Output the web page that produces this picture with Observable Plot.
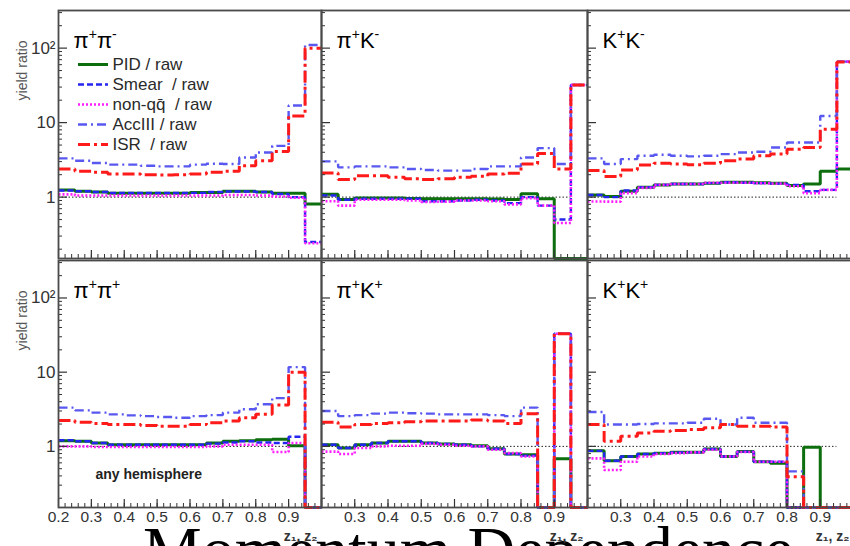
<!DOCTYPE html>
<html>
<head>
<meta charset="utf-8">
<script src="https://cdn.jsdelivr.net/npm/d3@7"></script>
<script src="https://cdn.jsdelivr.net/npm/@observablehq/plot@0.6"></script>
<style>
  body { margin: 0; background: #fff; }
  #fig { position: relative; width: 850px; height: 546px; overflow: hidden; background: #fff;
         font-family: "Liberation Sans", Arial, sans-serif; }
  #fig svg { position: absolute; overflow: visible; }
  #banner { position: absolute; left: 143px; top: 517px; font-family: "Liberation Serif", "Times New Roman", serif;
            font-size: 66px; line-height: 1; white-space: nowrap; color: #000; }
</style>
</head>
<body>
<div id="fig"><div id="banner">Momentum Dependence</div></div>
<script>
// Bin edges in z (16 bins of width 0.05)
const zEdges = [0.20, 0.25, 0.30, 0.35, 0.40, 0.45, 0.50, 0.55, 0.60, 0.65, 0.70, 0.75, 0.80, 0.85, 0.90, 0.95, 1.00];

// Series and legend text
const seriesKeys = ["PID", "Smear", "nonqq", "AccIII", "ISR"];
const legendLabels = ["PID / raw", "Smear\u00a0 / raw", "non-qq\u0304\u00a0 / raw", "AccIII / raw", "ISR\u00a0 / raw"];

// Panel titles and axis text
const panelTitles = ["π+π-", "π+K-", "K+K-", "π+π+", "π+K+", "K+K+"];
const yTickValues = [1, 10, 100];
const yTickLabels = ["1", "10", "10²"];
const xTickValues = [0.2, 0.3, 0.4, 0.5, 0.6, 0.7, 0.8, 0.9];
const yAxisTitle = "yield ratio";
const xAxisTitle = "z₁, z₂";
const noteText = "any hemisphere";
const unitySpan = [0.2, 0.95];

// π+π- (opposite charge) yield ratios per bin (0 = empty bin)
const pipiOpp_PID    = [1.25, 1.2, 1.17, 1.13, 1.13, 1.13, 1.13, 1.13, 1.15, 1.15, 1.2, 1.2, 1.17, 1.13, 1.13, 0.81];
const pipiOpp_Smear  = [1.23, 1.2, 1.17, 1.14, 1.14, 1.14, 1.14, 1.14, 1.14, 1.17, 1.19, 1.19, 1.17, 1.1, 1.0, 0.25];
const pipiOpp_nonqq  = [1.09, 1.05, 1.05, 1.05, 1.05, 1.05, 1.05, 1.05, 1.05, 1.05, 1.07, 1.07, 1.05, 1.02, 0.98, 0.24];
const pipiOpp_AccIII = [3.31, 3.08, 2.87, 2.73, 2.73, 2.64, 2.59, 2.59, 2.73, 2.81, 2.78, 3.41, 3.98, 4.88, 17.0, 110];
const pipiOpp_ISR    = [2.39, 2.22, 2.15, 2.05, 2.05, 2.0, 1.98, 2.0, 2.05, 2.15, 2.22, 2.64, 3.08, 4.1, 12.3, 100];

// π+K-
const piKOpp_PID    = [1.09, 0.93, 0.97, 0.97, 0.97, 0.96, 0.95, 0.95, 0.95, 0.95, 0.94, 0.93, 1.11, 0.95, 0, 0];
const piKOpp_Smear  = [1.05, 0.92, 0.95, 0.95, 0.95, 0.95, 0.88, 0.88, 0.9, 0.92, 0.9, 0.83, 1.0, 0.77, 0.5, 32];
const piKOpp_nonqq  = [0.88, 0.77, 0.92, 0.92, 0.92, 0.9, 0.86, 0.87, 0.9, 0.9, 0.88, 0.8, 0.97, 0.77, 0.45, 32];
const piKOpp_AccIII = [3.02, 2.51, 2.59, 2.59, 2.51, 2.39, 2.31, 2.27, 2.27, 2.39, 2.59, 2.59, 3.41, 4.55, 2.78, 32];
const piKOpp_ISR    = [2.11, 1.72, 1.94, 1.94, 1.85, 1.76, 1.72, 1.76, 1.85, 1.9, 2.05, 2.09, 2.78, 3.86, 2.39, 32];

// K+K-
const KKOpp_PID    = [1.07, 1.02, 1.2, 1.36, 1.46, 1.5, 1.5, 1.54, 1.58, 1.58, 1.56, 1.54, 1.43, 1.5, 2.22, 2.39];
const KKOpp_Smear  = [1.07, 1.0, 1.23, 1.36, 1.46, 1.5, 1.5, 1.54, 1.58, 1.56, 1.54, 1.52, 1.46, 1.2, 1.25, 66];
const KKOpp_nonqq  = [0.875, 0.87, 1.13, 1.33, 1.46, 1.5, 1.5, 1.56, 1.56, 1.56, 1.54, 1.52, 1.4, 1.13, 1.25, 66];
const KKOpp_AccIII = [3.31, 2.78, 3.24, 3.59, 3.7, 3.59, 3.52, 3.59, 3.78, 3.98, 4.06, 4.64, 5.41, 5.41, 12.3, 66];
const KKOpp_ISR    = [2.27, 1.89, 2.31, 2.7, 2.84, 2.78, 2.73, 2.84, 3.08, 3.24, 3.59, 3.78, 4.4, 4.64, 8.15, 65];

// π+π+ (same charge)
const pipiSame_PID    = [1.19, 1.17, 1.11, 1.05, 1.05, 1.05, 1.05, 1.05, 1.05, 1.11, 1.17, 1.19, 1.23, 1.25, 1.02, 0];
const pipiSame_Smear  = [1.21, 1.17, 1.11, 1.05, 1.05, 1.05, 1.05, 1.05, 1.05, 1.09, 1.13, 1.17, 1.13, 1.11, 1.35, 0];
const pipiSame_nonqq  = [1.0, 1.0, 0.98, 0.98, 0.98, 0.98, 0.98, 0.98, 0.98, 1.0, 1.05, 1.05, 1.05, 0.84, 1.11, 0];
const pipiSame_AccIII = [3.33, 3.06, 2.85, 2.7, 2.62, 2.56, 2.49, 2.43, 2.56, 2.64, 2.85, 3.16, 3.7, 4.47, 11.7, 0];
const pipiSame_ISR    = [2.24, 2.12, 2.04, 1.97, 1.97, 1.91, 1.87, 1.87, 1.97, 2.08, 2.19, 2.43, 2.7, 3.62, 10, 0];

// π+K+
const piKSame_PID    = [1.05, 0.95, 1.05, 1.11, 1.17, 1.17, 1.11, 1.08, 1.05, 1.02, 0.93, 0.79, 0.77, 0, 0.68, 0];
const piKSame_Smear  = [1.05, 0.95, 1.05, 1.11, 1.17, 1.17, 1.11, 1.08, 1.05, 1.0, 0.93, 0.79, 0.75, 0, 33, 0];
const piKSame_nonqq  = [0.85, 0.79, 0.95, 1.0, 1.02, 1.02, 1.08, 1.05, 1.02, 1.0, 0.9, 0.81, 0.73, 0, 33, 0];
const piKSame_AccIII = [3.0, 2.56, 2.64, 2.76, 2.85, 2.8, 2.76, 2.7, 2.7, 2.7, 2.64, 2.56, 3.33, 0, 33, 0];
const piKSame_ISR    = [2.12, 1.82, 1.97, 2.04, 2.08, 2.15, 2.19, 2.19, 2.19, 2.26, 2.19, 2.04, 2.76, 0, 33, 0];

// K+K+
const KKSame_PID    = [0.87, 0.64, 0.73, 0.79, 0.81, 0.83, 0.83, 0.92, 0.73, 0.85, 0.62, 0.59, 0, 0.97, 0, 0];
const KKSame_Smear  = [0.87, 0.64, 0.73, 0.79, 0.81, 0.83, 0.83, 0.92, 0.73, 0.85, 0.62, 0.62, 0, 0, 0, 0];
const KKSame_nonqq  = [0.69, 0.48, 0.62, 0.73, 0.79, 0.81, 0.83, 0.9, 0.73, 0.84, 0.62, 0.62, 0, 0, 0, 0];
const KKSame_AccIII = [2.91, 1.97, 1.97, 2.0, 2.04, 2.04, 2.08, 2.36, 1.97, 2.43, 2.08, 2.08, 0.46, 0, 0, 0];
const KKSame_ISR    = [1.97, 1.17, 1.37, 1.52, 1.6, 1.64, 1.69, 1.78, 1.97, 1.87, 1.87, 1.83, 0.39, 0, 0, 0];

// ---- styling ----
const seriesStyle = {
  PID:    {color: "#0d6e0d", width: 3,   dash: null},
  Smear:  {color: "#2525f0", width: 2.4, dash: "6,3"},
  nonqq:  {color: "#ff1eff", width: 2.6, dash: "2,2"},
  AccIII: {color: "#5858f0", width: 2.4, dash: "9,4,2,4"},
  ISR:    {color: "#ff1a1a", width: 3,   dash: "12,4,3,4"}
};
const Y_DOMAIN = [0.15, 320];
const X_DOMAIN = [0.2, 1.0];
const COLS = [{left: 58, w: 263}, {left: 321, w: 266}, {left: 587, w: 266}];
const ROWS = [{top: 10, h: 248}, {top: 260, h: 247}];
const FIG_H = 546;
const FONT = "'Liberation Sans', Arial, sans-serif";

const panels = [
  {title: panelTitles[0], col: 0, row: 0, data: {PID: pipiOpp_PID, Smear: pipiOpp_Smear, nonqq: pipiOpp_nonqq, AccIII: pipiOpp_AccIII, ISR: pipiOpp_ISR}},
  {title: panelTitles[1], col: 1, row: 0, data: {PID: piKOpp_PID, Smear: piKOpp_Smear, nonqq: piKOpp_nonqq, AccIII: piKOpp_AccIII, ISR: piKOpp_ISR}},
  {title: panelTitles[2], col: 2, row: 0, data: {PID: KKOpp_PID, Smear: KKOpp_Smear, nonqq: KKOpp_nonqq, AccIII: KKOpp_AccIII, ISR: KKOpp_ISR}},
  {title: panelTitles[3], col: 0, row: 1, note: true, data: {PID: pipiSame_PID, Smear: pipiSame_Smear, nonqq: pipiSame_nonqq, AccIII: pipiSame_AccIII, ISR: pipiSame_ISR}},
  {title: panelTitles[4], col: 1, row: 1, data: {PID: piKSame_PID, Smear: piKSame_Smear, nonqq: piKSame_nonqq, AccIII: piKSame_AccIII, ISR: piKSame_ISR}},
  {title: panelTitles[5], col: 2, row: 1, data: {PID: KKSame_PID, Smear: KKSame_Smear, nonqq: KKSame_nonqq, AccIII: KKSame_AccIII, ISR: KKSame_ISR}}
];

// Tick positions: majors every 0.1 in z, minors every 0.02; log minors 2..9 per decade
const xMinorTicks = d3.range(0, 41).map(i => +(0.2 + i * 0.02).toFixed(2));
const xMajorTicks = d3.range(0, 9).map(i => +(0.2 + i * 0.1).toFixed(1));
const yMinorTicks = [];
for (const dec of [0.1, 1, 10, 100]) for (let m = 2; m <= 9; m++) {
  const v = +(m * dec).toPrecision(2);
  if (v >= Y_DOMAIN[0] && v <= Y_DOMAIN[1]) yMinorTicks.push(v);
}

// Histogram outline: each bin contributes its two edges at the bin value
function steps(values) {
  const pts = [];
  values.forEach((v, i) => {
    const y = Math.max(v, Y_DOMAIN[0]);
    pts.push({x: zEdges[i], y}, {x: zEdges[i + 1], y});
  });
  return pts;
}

// Raise "+" / "-" charge signs into superscripts
function superscriptCharges(textEl, baseSize) {
  const t = textEl.textContent;
  const sel = d3.select(textEl);
  sel.text(null);
  let raised = false;
  const shift = Math.round(baseSize * 0.42);
  for (const ch of t) {
    const sup = ch === "+" || ch === "-";
    const ts = sel.append("tspan").text(ch);
    if (sup) {
      ts.attr("font-size", Math.round(baseSize * 0.62));
      if (!raised) { ts.attr("dy", -shift); raised = true; }
    } else if (raised) {
      ts.attr("dy", shift); raised = false;
    }
  }
}

const fig = document.getElementById("fig");
const TITLE_SIZE = 22;

for (const p of panels) {
  const col = COLS[p.col], row = ROWS[p.row];
  const isLeft = p.col === 0, isBottom = p.row === 1;
  const w = col.w, h = row.h;
  const mL = isLeft ? col.left : 0;
  const mB = isBottom ? FIG_H - (row.top + row.h) : 0;

  const marks = [];
  // reference line at ratio 1
  marks.push(Plot.ruleY([{y: 1, x1: unitySpan[0], x2: unitySpan[1]}],
    {x1: "x1", x2: "x2", y: "y", stroke: "#222", strokeWidth: 1, strokeDasharray: "1.5,2"}));
  // the five ratio histograms
  for (const k of seriesKeys) {
    const st = seriesStyle[k];
    marks.push(Plot.line(steps(p.data[k]), {
      x: "x", y: "y", stroke: st.color, strokeWidth: st.width,
      strokeDasharray: st.dash, strokeLinecap: "butt", strokeLinejoin: "miter"
    }));
  }
  // inward ticks
  marks.push(Plot.tickY(yMinorTicks, {y: d => d, stroke: "#333", strokeWidth: 1, insetRight: w - 4}));
  marks.push(Plot.tickY(yTickValues, {y: d => d, stroke: "#333", strokeWidth: 1.2, insetRight: w - 9}));
  marks.push(Plot.tickX(xMinorTicks, {x: d => d, stroke: "#333", strokeWidth: 1, insetTop: h - 4}));
  marks.push(Plot.tickX(xMajorTicks, {x: d => d, stroke: "#333", strokeWidth: 1.2, insetTop: h - 8}));
  marks.push(Plot.frame({stroke: "#4a4a4a", strokeWidth: 1.8}));

  if (isLeft) {
    marks.push(Plot.axisY(yTickValues, {
      tickSize: 0, tickPadding: 3, fontSize: 17, label: null,
      tickFormat: d => yTickLabels[yTickValues.indexOf(d)], fill: "#333"
    }));
    marks.push(Plot.text([yAxisTitle], {
      frameAnchor: "top-left", rotate: -90, textAnchor: "end",
      dx: -41, dy: 30, fontSize: 14, fill: "#555"
    }));
  }
  if (isBottom) {
    marks.push(Plot.axisX(isLeft ? xTickValues : xTickValues.slice(1), {
      tickSize: 0, tickPadding: 3, fontSize: 15.5, label: null,
      tickFormat: d3.format(".1f"), fill: "#333"
    }));
    marks.push(Plot.text([xAxisTitle], {
      frameAnchor: "bottom-right", textAnchor: "end", dx: -4, dy: 33,
      fontSize: 14, fontWeight: "bold", fill: "#333"
    }));
  }
  if (p.note) {
    marks.push(Plot.text([noteText], {
      frameAnchor: "bottom-left", textAnchor: "start", dx: 37, dy: -29,
      fontSize: 14, fontWeight: "bold", fill: "#222"
    }));
  }
  marks.push(Plot.text([p.title], {
    frameAnchor: "top-left", textAnchor: "start", lineAnchor: "bottom",
    dx: 15, dy: 37, fontSize: TITLE_SIZE, fill: "#000"
  }));

  const svg = Plot.plot({
    width: mL + w, height: h + mB,
    marginLeft: mL, marginRight: 0, marginTop: 0, marginBottom: mB,
    x: {domain: X_DOMAIN, axis: null},
    y: {type: "log", domain: Y_DOMAIN, axis: null},
    style: {background: "none", overflow: "visible", fontFamily: FONT},
    marks
  });
  svg.style.left = (col.left - mL) + "px";
  svg.style.top = row.top + "px";
  d3.select(svg).selectAll("text")
    .filter(function () { return this.textContent === p.title; })
    .each(function () { superscriptCharges(this, TITLE_SIZE); });
  fig.appendChild(svg);
}

// Legend, drawn inside the first panel
const legendRows = seriesKeys.map((k, i) => ({key: k, label: legendLabels[i]}));
const LEG_W = 200;
const legend = Plot.plot({
  width: LEG_W, height: 103, margin: 0,
  y: {type: "point", domain: seriesKeys, padding: 0.5, axis: null},
  style: {background: "none", overflow: "visible", fontFamily: FONT},
  marks: [
    ...seriesKeys.map(k => Plot.ruleY([k], {
      y: d => d, stroke: seriesStyle[k].color, strokeWidth: seriesStyle[k].width,
      strokeDasharray: seriesStyle[k].dash, insetRight: LEG_W - 30
    })),
    Plot.text(legendRows, {
      y: "key", text: "label", frameAnchor: "left", textAnchor: "start",
      dx: 34, fontSize: 17, fill: "#2a2a2a"
    })
  ]
});
legend.style.left = "78px";
legend.style.top = "52px";
fig.appendChild(legend);
</script>
</body>
</html>
